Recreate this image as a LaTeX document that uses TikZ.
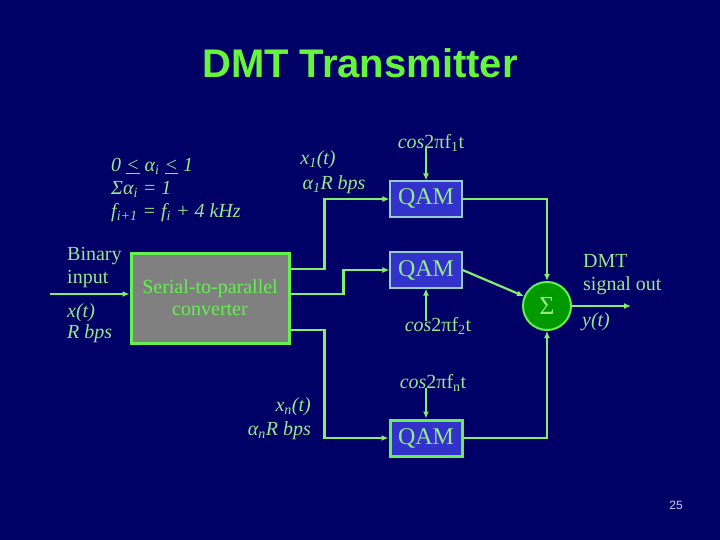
\documentclass[tikz,border=0pt]{standalone}
\usepackage{fontspec}
\setmainfont{Liberation Serif}
\newfontfamily\arialf{Liberation Sans}
\usetikzlibrary{arrows.meta}
\definecolor{bgc}{RGB}{0,0,102}
\definecolor{titlec}{RGB}{102,245,60}
\definecolor{txtc}{RGB}{150,232,140}
\definecolor{linec}{RGB}{130,240,110}
\definecolor{brightc}{RGB}{100,240,80}
\definecolor{qamfill}{RGB}{51,51,204}
\definecolor{qamedge}{RGB}{150,205,200}
\definecolor{serfill}{RGB}{128,128,128}
\definecolor{sumfill}{RGB}{0,153,0}
\definecolor{pagec}{RGB}{200,210,255}
\begin{document}
\begin{tikzpicture}[x=1pt,y=-1pt,
  lbl/.style={inner sep=0pt, text=txtc, font=\fontsize{20}{23}\selectfont},
  ilbl/.style={lbl, font=\fontsize{20}{23}\selectfont\itshape},
  qambox/.style={draw=qamedge, line width=1.2pt, fill=qamfill, minimum width=72pt, minimum height=36pt, inner sep=0pt, text=txtc, font=\fontsize{24}{26}\selectfont},
  conn/.style={draw=linec, line width=2.2pt},
  arr/.style={conn, -{Latex[length=7pt,width=6pt]}}
]
\fill[bgc] (0,0) rectangle (720,540);
\useasboundingbox (0,0) rectangle (720,540);

% title
\node[inner sep=0pt, text=titlec, font=\arialf\bfseries\fontsize{40}{44}\selectfont] (title) at (360,63) {DMT Transmitter};

% constraints
\node[ilbl, anchor=west, align=left] (cons) at (111,190) {0 \underline{<} α\textsubscript{i} \underline{<} 1\\Σα\textsubscript{i} = 1\\f\textsubscript{i+1} = f\textsubscript{i} + 4 kHz};

% serial-to-parallel converter
\node[draw=brightc, line width=3pt, fill=serfill, minimum width=158pt, minimum height=90pt, inner sep=0pt, text=brightc, align=center, font=\fontsize{20}{22}\selectfont] (ser) at (210,298) {Serial-to-parallel\\converter};

% input
\coordinate (in) at (50,294);
\draw[arr] (in) -- (ser.west |- in);
\node[lbl, anchor=west, align=left] (bin) at (67,268) {Binary\\input};
\node[ilbl, anchor=west, align=left, font=\fontsize{20}{21}\selectfont\itshape] (xt) at (67,323) {x(t)\\R bps};

% QAM boxes
\node[qambox] (qam1) at (426,199) {QAM};
\node[qambox] (qam2) at (426,270) {QAM};
\node[qambox, draw=brightc, line width=3pt] (qam3) at (426,438) {QAM};

% carriers
\node[lbl] (c1) at (431,143) {\textit{cos}2πf\textsubscript{1}t};
\node[lbl] (c2) at (438,326) {\textit{cos}2πf\textsubscript{2}t};
\node[lbl] (c3) at (433,383) {\textit{cos}2πf\textsubscript{n}t};
\draw[arr] (qam1.north |- c1.south) ++(0,-4) -- (qam1.north);
\draw[arr] (qam2.south |- c2.north) ++(0,4) -- (qam2.south);
\draw[arr] (qam3.north |- c3.south) ++(0,-4) -- (qam3.north);

% branch labels
\node[ilbl] (x1) at (318,160) {x\textsubscript{1}(t)};
\node[ilbl] (a1) at (334,185) {α\textsubscript{1}R bps};
\node[ilbl, anchor=east] (xn) at (311,407) {x\textsubscript{n}(t)};
\node[ilbl, anchor=east] (an) at (311,431) {α\textsubscript{n}R bps};

% serial -> QAM connections
\draw[arr] ([yshift=29pt]ser.east) -- ++(34,0) |- (qam1.west);
\draw[arr] ([yshift=4pt]ser.east) -- ++(53,0) |- (qam2.west);
\draw[arr] ([yshift=-32pt]ser.east) -- ++(34,0) |- (qam3.west);

% summer
\node[circle, draw=brightc, line width=2pt, fill=sumfill, minimum size=48pt, inner sep=0pt, text=txtc, font=\fontsize{26}{28}\selectfont] (sum) at (547,306) {Σ};
\draw[arr] (qam1.east) -| (sum.north);
\draw[arr] (qam2.east) -- (sum);
\draw[arr] (qam3.east) -| (sum.south);

% output
\coordinate (out) at (631,306);
\draw[arr] (sum.east) -- (out);
\node[lbl, anchor=west, align=left] (dmt) at (583,275) {DMT\\signal out};
\node[ilbl] (yt) at (596,322) {y(t)};

% page number
\node[inner sep=0pt, text=pagec, font=\arialf\fontsize{12}{14}\selectfont] (pg) at (676,505) {25};
\end{tikzpicture}
\end{document}
